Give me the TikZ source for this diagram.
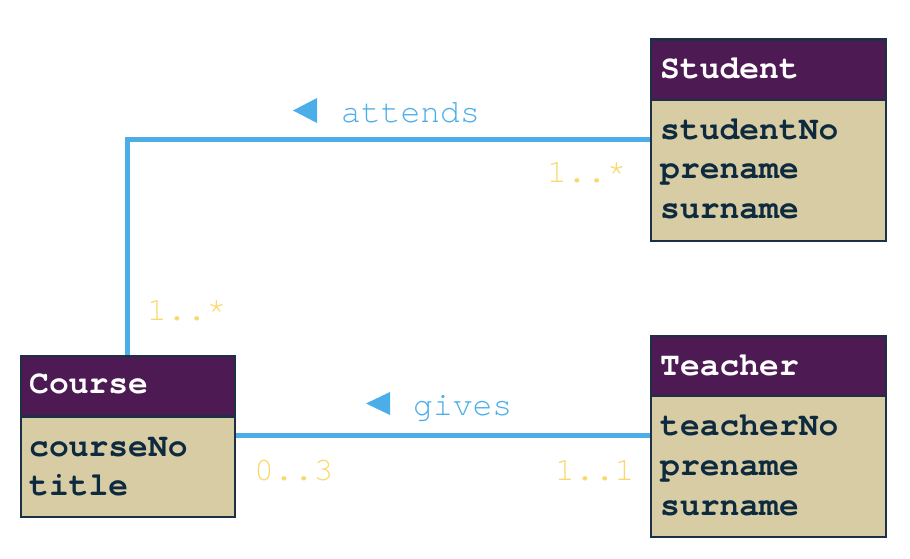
\documentclass[tikz,border=0pt]{standalone}
\usepackage{fontspec}
\setmonofont{TeX Gyre Cursor}
\definecolor{hdr}{HTML}{4E1A54}
\definecolor{bdy}{HTML}{D8CCA4}
\definecolor{brd}{HTML}{1C3146}
\definecolor{txt}{HTML}{0E2A3F}
\definecolor{lnk}{HTML}{4BAEE8}
\definecolor{mult}{HTML}{F8D96E}
\pgfdeclarelayer{background}
\pgfsetlayers{background,main}
\tikzset{
  hbox/.style={draw=brd, line width=2.6pt, fill=hdr, inner sep=0pt, anchor=north west},
  bbox/.style={draw=brd, line width=2.6pt, fill=bdy, inner sep=0pt, anchor=north west},
  htext/.style={inner sep=0pt, anchor=base west, text=white, font=\ttfamily\bfseries\fontsize{33}{40}\selectfont},
  atext/.style={inner sep=0pt, anchor=base west, text=txt, font=\ttfamily\bfseries\fontsize{33}{40}\selectfont},
  ltext/.style={inner sep=0pt, anchor=base west, text=lnk, font=\ttfamily\fontsize{33}{40}\selectfont},
  mtext/.style={inner sep=0pt, anchor=base west, text=mult, font=\ttfamily\fontsize{33}{40}\selectfont},
  assoc/.style={draw=lnk, line width=5pt},
}
\begin{document}
\begin{tikzpicture}[x=1pt, y=-1pt]
\useasboundingbox (0,0) rectangle (910,558);
% class boxes
\path
  node[hbox, minimum width=235pt, minimum height=60.5pt] (stuH) at (649.5,38) {}
  node[bbox, minimum width=235pt, minimum height=141pt] (stuB) at (649.5,98.5) {}
  node[hbox, minimum width=214pt, minimum height=60.5pt] (crsH) at (19.5,354.5) {}
  node[bbox, minimum width=214pt, minimum height=100.5pt] (crsB) at (19.5,415) {}
  node[hbox, minimum width=235pt, minimum height=60pt] (tchH) at (649.5,334.5) {}
  node[bbox, minimum width=235pt, minimum height=141pt] (tchB) at (649.5,394.5) {};
\coordinate (ya) at (0,139);
\coordinate (yg) at (0,435);
% connectors
\begin{pgfonlayer}{background}
\draw[assoc] (stuB.west |- ya) -| (crsH.north);
\draw[assoc] (crsB.east |- yg) -- (tchB.west |- yg);
\end{pgfonlayer}
% texts
\node[htext] (stuT) at (660,78) {Student};
\node[atext] (stuA1) at (660,139) {studentNo};
\node[atext] (stuA2) at (660,178) {prename};
\node[atext] (stuA3) at (660,218) {surname};
\node[htext] (crsT) at (29,393) {Course};
\node[atext] (crsA1) at (29,456) {courseNo};
\node[atext] (crsA2) at (29,495) {title};
\node[htext] (tchT) at (660,375) {Teacher};
\node[atext] (tchA1) at (660,435) {teacherNo};
\node[atext] (tchA2) at (660,475) {prename};
\node[atext] (tchA3) at (660,515) {surname};
% association labels
\fill[lnk] (317,98) -- (317,123) -- (293,110.5) -- cycle;
\node[ltext] (attL) at (341,122) {attends};
\fill[lnk] (390,392) -- (390,415) -- (366,403.5) -- cycle;
\node[ltext] (givL) at (413,415) {gives};
% multiplicities
\node[mtext] (m1) at (547,182) {1..*};
\node[mtext] (m2) at (147,320) {1..*};
\node[mtext] (m3) at (254,480) {0..3};
\node[mtext] (m4) at (555,480) {1..1};
\end{tikzpicture}
\end{document}
